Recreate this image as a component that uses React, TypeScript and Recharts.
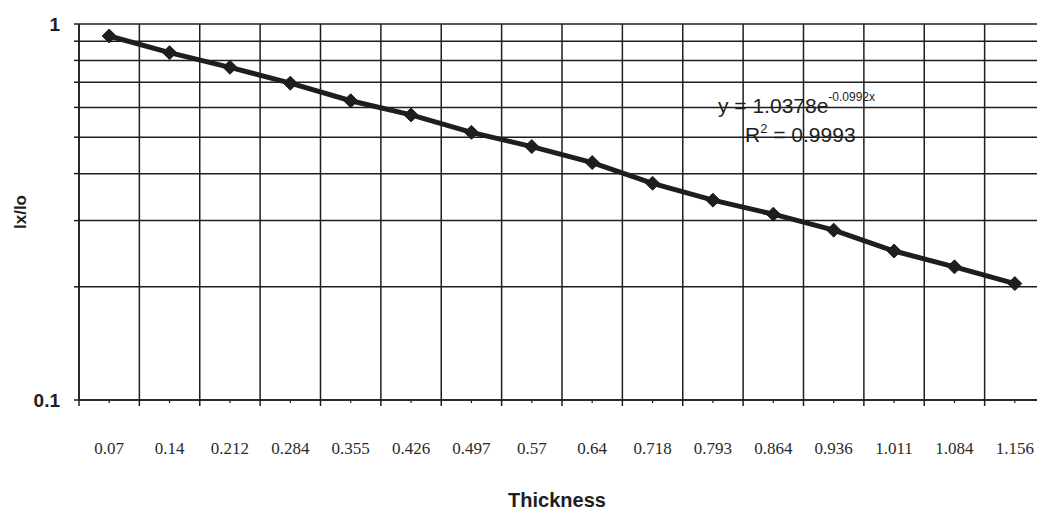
import React from 'react';
import {
  CartesianGrid,
  Line,
  LineChart,
  ReferenceLine,
  XAxis,
  YAxis,
} from 'recharts';

const thickness = [
  '0.07', '0.14', '0.212', '0.284', '0.355', '0.426', '0.497', '0.57',
  '0.64', '0.718', '0.793', '0.864', '0.936', '1.011', '1.084', '1.156',
];
const ratio = [
  0.929, 0.839, 0.767, 0.696, 0.625, 0.573, 0.515, 0.472,
  0.428, 0.377, 0.34, 0.312, 0.283, 0.249, 0.226, 0.204,
];
const yTicks = [0.1, 0.2, 0.3, 0.4, 0.5, 0.6, 0.7, 0.8, 0.9, 1];
const yLabels: Record<string, string> = { '1': '1', '0.1': '0.1' };

const data = thickness.map((t, i) => ({ x: i + 0.5, t, ratio: ratio[i] }));
const xTicks = Array.from({ length: thickness.length * 2 + 1 }, (_, k) => k / 2);
const bounds = Array.from({ length: thickness.length + 1 }, (_, k) => k);

const INK = '#1e1e1e';
const SANS = '"Liberation Sans", Arial, sans-serif';
const SERIF = '"Liberation Serif", "Times New Roman", serif';

const XTick = (props: any) => {
  const { x, y, payload } = props;
  const v = payload.value as number;
  if (Number.isInteger(v)) {
    return <line x1={x} y1={y} x2={x} y2={y + 6} stroke={INK} strokeWidth={1.5} />;
  }
  return (
    <g>
      <line x1={x} y1={y} x2={x} y2={y + 3} stroke={INK} strokeWidth={1.2} />
      <text
        x={x}
        y={y + 54}
        textAnchor='middle'
        fontFamily={SERIF}
        fontSize={17}
        fill='#2a2a2a'
      >
        {thickness[Math.floor(v)]}
      </text>
    </g>
  );
};

const Diamond = (props: any) => {
  const { cx, cy } = props;
  if (cx == null || cy == null) return null;
  const r = 7;
  return (
    <polygon
      points={`${cx},${cy - r} ${cx + r},${cy} ${cx},${cy + r} ${cx - r},${cy}`}
      fill={INK}
      stroke={INK}
    />
  );
};

export default function App() {
  return (
    <div
      style={{
        position: 'fixed',
        top: 0,
        left: 0,
        width: 1037,
        height: 512,
        overflow: 'hidden',
        background: '#fff',
      }}
    >
      <LineChart
        width={1060}
        height={512}
        data={data}
        margin={{ top: 24, right: 15, bottom: 0, left: 0 }}
      >
        <CartesianGrid vertical={false} stroke={INK} strokeWidth={1.5} />
        {bounds.map((b) => (
          <ReferenceLine key={b} x={b} stroke={INK} strokeWidth={1.5} />
        ))}
        <XAxis
          dataKey='x'
          type='number'
          domain={[0, thickness.length]}
          ticks={xTicks}
          interval={0}
          tickSize={0}
          tickMargin={0}
          tickLine={false}
          tick={<XTick />}
          height={112}
          axisLine={{ stroke: INK, strokeWidth: 1.5 }}
          label={{
            value: 'Thickness',
            position: 'insideBottom',
            offset: 5,
            dx: -5,
            style: { fontFamily: SANS, fontSize: 20, fontWeight: 'bold', fill: INK },
          }}
        />
        <YAxis
          type='number'
          scale='log'
          domain={[0.1, 1]}
          ticks={yTicks}
          interval={0}
          allowDataOverflow
          width={79}
          tickSize={5}
          tickMargin={14}
          tickLine={{ stroke: INK, strokeWidth: 1.5 }}
          axisLine={{ stroke: INK, strokeWidth: 1.5 }}
          tickFormatter={(v: number) => yLabels[String(v)] ?? ''}
          tick={{ fontFamily: SANS, fontSize: 19, fontWeight: 'bold', fill: INK }}
          label={{
            value: 'Ix/Io',
            angle: -90,
            position: 'insideLeft',
            offset: 20,
            style: {
              textAnchor: 'middle',
              fontFamily: SANS,
              fontSize: 17,
              fontWeight: 'bold',
              fill: INK,
            },
          }}
        />
        <Line
          type='linear'
          dataKey='ratio'
          stroke={INK}
          strokeWidth={5}
          dot={<Diamond />}
          activeDot={false}
          isAnimationActive={false}
        />
      </LineChart>
      <svg
        width={1037}
        height={512}
        style={{ position: 'absolute', top: 0, left: 0, pointerEvents: 'none' }}
      >
        <g fontFamily={SANS} fill={INK}>
          <text x={718} y={113} fontSize={21}>
            y = 1.0378e
            <tspan dy={-12} fontSize={12}>
              -0.0992x
            </tspan>
          </text>
          <text x={745} y={142} fontSize={21}>
            R
            <tspan dy={-9} fontSize={13}>
              2
            </tspan>
            <tspan dy={9}> = 0.9993</tspan>
          </text>
        </g>
      </svg>
    </div>
  );
}
